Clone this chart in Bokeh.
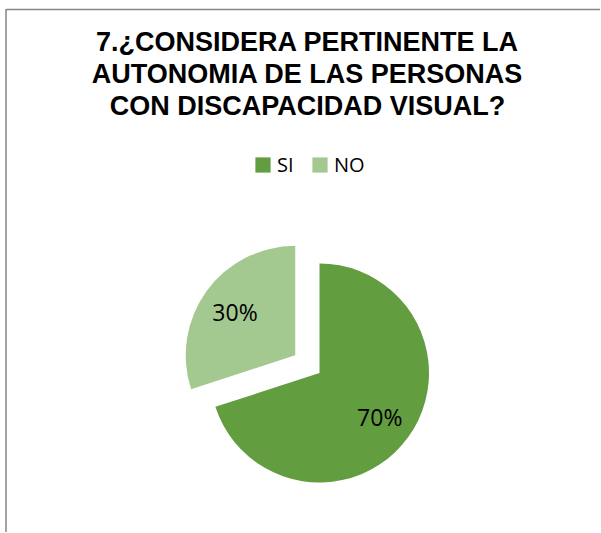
import math
from bokeh.plotting import figure
from bokeh.models import ColumnDataSource, Range1d, Legend, LegendItem
from bokeh.core.properties import value
from bokeh.embed import file_html
from bokeh.resources import INLINE

# ---- data ----
title_lines = ["7.¿CONSIDERA PERTINENTE LA",
               "AUTONOMIA DE LAS PERSONAS",
               "CON DISCAPACIDAD VISUAL?"]
categories = ["SI", "NO"]
values = [70, 30]
pct_labels = ["70%", "30%"]

# ---- style / layout ----
PALETTE = ["#629d40", "#a3c890"]
EXPLODE = [0.0, 30.0]          # px offset of each slice along its bisector
W, H = 600, 532
CX, CY, R = 319.0, H - 372.5, 109.5
LABEL_FRAC = 0.68
TITLE_X = 307
TITLE_Y = [H - 41, H - 73, H - 105]
FRAME_LEFT, FRAME_TOP = 5.5, H - 9

total = float(sum(values))
starts, ends, xs, ys, lxs, lys = [], [], [], [], [], []
cum = 0.0
for v, ex in zip(values, EXPLODE):
    a0 = cum / total * 2 * math.pi
    cum += v
    a1 = cum / total * 2 * math.pi
    start = math.pi / 2 - a1
    end = math.pi / 2 - a0
    mid = (start + end) / 2
    cx = CX + ex * math.cos(mid)
    cy = CY + ex * math.sin(mid)
    starts.append(start)
    ends.append(end)
    xs.append(cx)
    ys.append(cy)
    lxs.append(cx + LABEL_FRAC * R * math.cos(mid))
    lys.append(cy + LABEL_FRAC * R * math.sin(mid))

src = ColumnDataSource(dict(x=xs, y=ys, start=starts, end=ends,
                            color=PALETTE, cat=categories,
                            lx=lxs, ly=lys, lab=pct_labels))

p = figure(width=W, height=H, x_range=Range1d(0, W), y_range=Range1d(0, H),
           output_backend="svg", toolbar_location=None, min_border=0,
           x_axis_location=None, y_axis_location=None,
           outline_line_color=None, background_fill_color="white",
           border_fill_color="white")
p.grid.visible = False

# chart-area border (left and top edges; right/bottom lie outside the view)
p.line(x=[FRAME_LEFT, FRAME_LEFT, W], y=[0, FRAME_TOP, FRAME_TOP],
       line_color="#868686", line_width=1.5)

wr = p.wedge(x="x", y="y", radius=R, start_angle="start", end_angle="end",
             fill_color="color", line_color=None, source=src)

p.text(x="lx", y="ly", text="lab", source=src,
       text_font=value("Open Sans"), text_font_size="23px",
       text_align="center", text_baseline="middle", text_color="#000000")

# title
title_src = ColumnDataSource(dict(x=[TITLE_X] * 3, y=TITLE_Y, t=title_lines))
p.text(x="x", y="y", text="t", source=title_src,
       text_font=value("Liberation Sans"), text_font_style="bold",
       text_font_size="27px", text_align="center",
       text_baseline="alphabetic", text_color="#000000")

legend = Legend(items=[LegendItem(label=c, renderers=[wr], index=i)
                       for i, c in enumerate(categories)],
                orientation="horizontal", location=(253, H - 178),
                glyph_width=19, glyph_height=19, label_standoff=5,
                spacing=13, padding=0, margin=0,
                border_line_color=None, background_fill_alpha=0,
                label_text_font="Open Sans", label_text_font_size="20px",
                label_text_color="#000000")
p.add_layout(legend, "center")

open("out.html", "w").write(file_html(p, INLINE))
